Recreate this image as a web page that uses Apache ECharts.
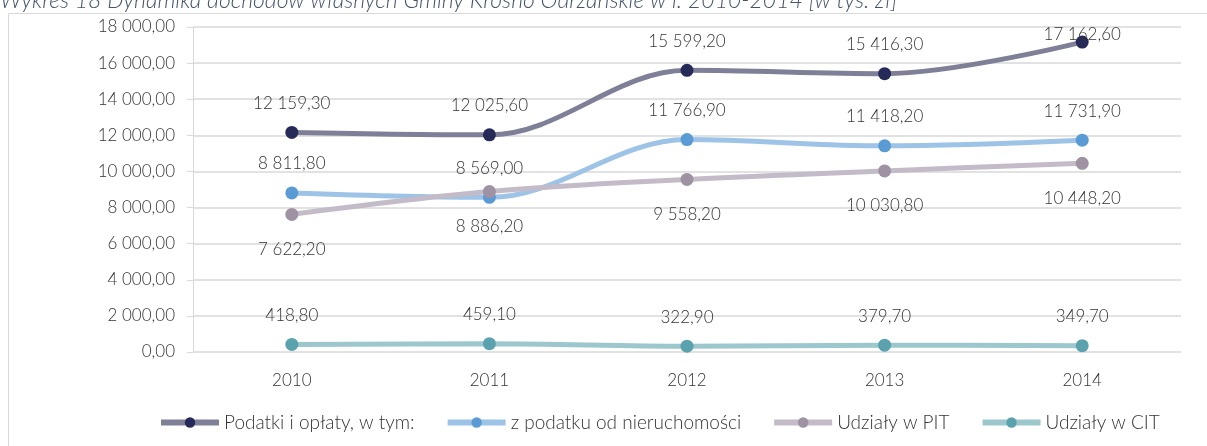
<!DOCTYPE html>
<html><head><meta charset="utf-8">
<script src="https://cdn.jsdelivr.net/npm/echarts@6/dist/echarts.min.js"></script>
<style>html,body{margin:0;padding:0;background:#fff}#c{width:1207px;height:446px}</style>
</head><body><div id="c"></div>
<script>
const categories = ['2010','2011','2012','2013','2014'];
const podatki = [12159.3, 12025.6, 15599.2, 15416.3, 17162.6];
const nieruchomosci = [8811.8, 8569.0, 11766.9, 11418.2, 11731.9];
const pit = [7622.2, 8886.2, 9558.2, 10030.8, 10448.2];
const cit = [418.8, 459.1, 322.9, 379.7, 349.7];
const seriesNames = ['Podatki i opłaty, w tym:', 'z podatku od nieruchomości', 'Udziały w PIT', 'Udziały w CIT'];
const titleText = 'Wykres 18 Dynamika dochodów własnych Gminy Krosno Odrzańskie w l. 2010-2014 [w tys. zł]';

function fmt(v){
  const s = Number(v).toFixed(2);
  let [i,d] = s.split('.');
  i = i.replace(/\B(?=(\d{3})+(?!\d))/g, ' ');
  return i + ',' + d;
}
const FONT = 'Lato';
const TXT = '#333333';
function mk(name, data, lineColor, markColor, pos, dist){
  return {
    name, type:'line', data, smooth:0.35, symbol:'circle', symbolSize:13,
    lineStyle:{color:lineColor, width:5},
    itemStyle:{color:markColor},
    label:{show:true, position:pos, distance:dist, formatter:p=>fmt(p.value),
      color:TXT, fontSize:17, fontFamily:FONT, fontWeight:300},
    emphasis:{disabled:true}
  };
}
// top series: last label is pushed down to stay inside the plot area
const podatkiData = podatki.map((v,i)=> i===podatki.length-1 ? {value:v, label:{distance:-7}} : v);
const chart = echarts.init(document.getElementById('c'), null, {renderer:'canvas'});
chart.setOption({
  animation:false,
  textStyle:{fontFamily:FONT},
  graphic:[
    {type:'rect', shape:{x:8.5,y:13.5,width:1220,height:450}, style:{fill:'none', stroke:'#d9d9d9', lineWidth:1}, silent:true},
    {type:'text', left:0, top:-11, style:{text:titleText, font:'italic 300 23px Lato', fill:'#44546A'}}
  ],
  grid:{left:193, right:26, top:27, bottom:94},
  legend:{
    bottom:9, left:153, itemWidth:58, itemHeight:13, itemGap:30,
    lineStyle:{width:6},
    textStyle:{color:TXT, fontSize:19, fontFamily:FONT, fontWeight:300},
    data:seriesNames
  },
  xAxis:{type:'category', data:categories, boundaryGap:true,
    axisLine:{show:false}, axisTick:{show:false},
    axisLabel:{color:TXT, fontSize:17, fontFamily:FONT, fontWeight:300, margin:20}},
  yAxis:{type:'value', min:0, max:18000, interval:2000,
    axisLine:{show:true, lineStyle:{color:'#d9d9d9'}},
    axisTick:{show:true, length:6, lineStyle:{color:'#d9d9d9'}},
    splitLine:{lineStyle:{color:'#d9d9d9', width:1.5}},
    axisLabel:{color:TXT, fontSize:17, fontFamily:FONT, fontWeight:300, margin:18, formatter:v=>fmt(v)}},
  series:[
    mk(seriesNames[0], podatkiData, '#7f8098', '#262a59', 'top', 14),
    mk(seriesNames[1], nieruchomosci, '#9dc3e6', '#5b9bd5', 'top', 14),
    mk(seriesNames[2], pit, '#c3bbc8', '#9f92a2', 'bottom', 20),
    mk(seriesNames[3], cit, '#9bc7cd', '#5aa3ae', 'top', 14)
  ]
});
</script></body></html>
